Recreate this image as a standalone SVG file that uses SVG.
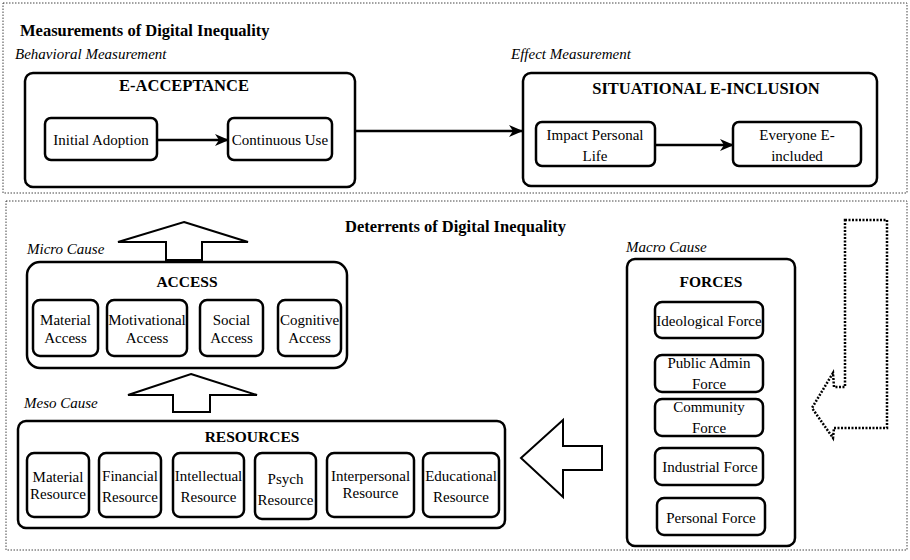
<svg xmlns="http://www.w3.org/2000/svg" width="910" height="560" viewBox="0 0 910 560">
<style>
text{font-family:"Liberation Serif","Times New Roman",serif;fill:#000}
.t{font-size:15px}
.h{font-size:16.5px;font-weight:bold}
.h2{font-size:15.5px;font-weight:bold}
.i{font-size:15px;font-style:italic}
.frame{fill:none;stroke:#444;stroke-width:1;stroke-dasharray:1.5 1.5}
.box{fill:#fff;stroke:#000;stroke-width:2.5}
.ob{fill:none;stroke:#000;stroke-width:2.5}
.blk{fill:#fff;stroke:#000;stroke-width:2}
.ln{fill:none;stroke:#000;stroke-width:2.5}
</style>
<defs>
<marker id="ah" markerUnits="userSpaceOnUse" markerWidth="14" markerHeight="12" refX="13" refY="6" orient="auto">
<path d="M0,0 L14,6 L0,12 L4,6 Z" fill="#000"/>
</marker>
</defs>
<rect x="0" y="0" width="910" height="560" fill="#fff"/>
<rect class="frame" x="3" y="3" width="904" height="190"/>
<rect class="frame" x="6" y="201" width="901" height="349"/>
<text class="h" x="20" y="36">Measurements of Digital Inequality</text>
<text class="i" x="15" y="59">Behavioral Measurement</text>
<text class="i" x="511" y="59">Effect Measurement</text>
<text class="h" x="345" y="232">Deterrents of Digital Inequality</text>
<text class="i" x="27" y="254">Micro Cause</text>
<text class="i" x="24" y="408">Meso Cause</text>
<text class="i" x="626" y="252">Macro Cause</text>

<g id="e-acceptance">
<rect class="ob" x="25" y="73" width="330" height="114" rx="8"/>
<text class="h" x="184" y="91" text-anchor="middle">E-ACCEPTANCE</text>
</g>
<g id="initial-adoption">
<rect class="box" x="45" y="118" width="112" height="42" rx="6"/>
<text class="t" x="101" y="145" text-anchor="middle">Initial Adoption</text>
</g>
<g id="continuous-use">
<rect class="box" x="228" y="118" width="104" height="42" rx="6"/>
<text class="t" x="280" y="145" text-anchor="middle">Continuous Use</text>
</g>

<g id="situational-e-inclusion">
<rect class="ob" x="523" y="73" width="354" height="113" rx="8"/>
<text class="h" x="706" y="94" text-anchor="middle">SITUATIONAL E-INCLUSION</text>
</g>
<g id="impact-personal-life">
<rect class="box" x="536" y="122" width="119" height="44" rx="6"/>
<text class="t" x="595" y="140" text-anchor="middle">Impact Personal</text>
<text class="t" x="595" y="161" text-anchor="middle">Life</text>
</g>
<g id="everyone-e-included">
<rect class="box" x="733" y="122" width="128" height="44" rx="6"/>
<text class="t" x="797" y="140" text-anchor="middle">Everyone E-</text>
<text class="t" x="797" y="161" text-anchor="middle">included</text>
</g>

<g id="access">
<rect class="ob" x="27" y="262" width="320" height="106" rx="13"/>
<text class="h2" x="187" y="287" text-anchor="middle">ACCESS</text>
</g>
<g id="material-access">
<rect class="box" x="33" y="300" width="65" height="56" rx="7"/>
<text class="t" x="65.5" y="325" text-anchor="middle">Material</text>
<text class="t" x="65.5" y="343" text-anchor="middle">Access</text>
</g>
<g id="motivational-access">
<rect class="box" x="107" y="300" width="80" height="56" rx="7"/>
<text class="t" x="147" y="325" text-anchor="middle">Motivational</text>
<text class="t" x="147" y="343" text-anchor="middle">Access</text>
</g>
<g id="social-access">
<rect class="box" x="200" y="300" width="63" height="56" rx="7"/>
<text class="t" x="231.5" y="325" text-anchor="middle">Social</text>
<text class="t" x="231.5" y="343" text-anchor="middle">Access</text>
</g>
<g id="cognitive-access">
<rect class="box" x="278" y="300" width="63" height="56" rx="7"/>
<text class="t" x="309.5" y="325" text-anchor="middle">Cognitive</text>
<text class="t" x="309.5" y="343" text-anchor="middle">Access</text>
</g>

<g id="resources">
<rect class="ob" x="18" y="421" width="487" height="107" rx="8"/>
<text class="h2" x="252" y="442" text-anchor="middle">RESOURCES</text>
</g>
<g id="material-resource">
<rect class="box" x="27" y="453" width="62" height="64" rx="7"/>
<text class="t" x="58" y="482" text-anchor="middle">Material</text>
<text class="t" x="58" y="499" text-anchor="middle">Resource</text>
</g>
<g id="financial-resource">
<rect class="box" x="99" y="453" width="62" height="64" rx="7"/>
<text class="t" x="130" y="481" text-anchor="middle">Financial</text>
<text class="t" x="130" y="502" text-anchor="middle">Resource</text>
</g>
<g id="intellectual-resource">
<rect class="box" x="173" y="453" width="71" height="64" rx="7"/>
<text class="t" x="208.5" y="481" text-anchor="middle">Intellectual</text>
<text class="t" x="208.5" y="502" text-anchor="middle">Resource</text>
</g>
<g id="psych-resource">
<rect class="box" x="255" y="453" width="61" height="66" rx="7"/>
<text class="t" x="285.5" y="484" text-anchor="middle">Psych</text>
<text class="t" x="285.5" y="505" text-anchor="middle">Resource</text>
</g>
<g id="interpersonal-resource">
<rect class="box" x="327" y="453" width="87" height="64" rx="7"/>
<text class="t" x="370.5" y="481" text-anchor="middle">Interpersonal</text>
<text class="t" x="370.5" y="498" text-anchor="middle">Resource</text>
</g>
<g id="educational-resource">
<rect class="box" x="423" y="453" width="76" height="64" rx="7"/>
<text class="t" x="461" y="481" text-anchor="middle">Educational</text>
<text class="t" x="461" y="502" text-anchor="middle">Resource</text>
</g>

<g id="forces">
<rect class="ob" x="627" y="259" width="168" height="287" rx="8"/>
<text class="h2" x="711" y="287" text-anchor="middle">FORCES</text>
</g>
<g id="ideological-force">
<rect class="box" x="655" y="302" width="108" height="36" rx="7"/>
<text class="t" x="709" y="326" text-anchor="middle">Ideological Force</text>
</g>
<g id="public-admin-force">
<rect class="box" x="655" y="355" width="108" height="37" rx="7"/>
<text class="t" x="709" y="368" text-anchor="middle">Public Admin</text>
<text class="t" x="709" y="389" text-anchor="middle">Force</text>
</g>
<g id="community-force">
<rect class="box" x="655" y="399" width="108" height="37" rx="7"/>
<text class="t" x="709" y="412" text-anchor="middle">Community</text>
<text class="t" x="709" y="433" text-anchor="middle">Force</text>
</g>
<g id="industrial-force">
<rect class="box" x="655" y="448" width="108" height="37" rx="7"/>
<text class="t" x="710" y="472" text-anchor="middle">Industrial Force</text>
</g>
<g id="personal-force">
<rect class="box" x="657" y="498" width="108" height="37" rx="7"/>
<text class="t" x="711" y="523" text-anchor="middle">Personal Force</text>
</g>

<g id="connectors">
<line class="ln" x1="157" y1="140" x2="228" y2="140" marker-end="url(#ah)"/>
<line class="ln" x1="355" y1="131" x2="522" y2="131" marker-end="url(#ah)"/>
<line class="ln" x1="655" y1="145" x2="733" y2="145" marker-end="url(#ah)"/>
<polygon class="blk" points="184,222 248,242 202,242 202,260 166,260 166,242 118,242"/>
<polygon class="blk" points="191,374 257,395 210,395 210,412 173,412 173,395 128,395"/>
<polygon class="blk" points="521,458 563,420 563,446 602,446 602,470 563,470 563,497"/>
<polygon points="845,220 887,220 887,428 834,428 833,438 812,408 833,373 834,387 845,387" fill="none" stroke="#000" stroke-width="2.5" stroke-dasharray="2 1.5"/>
</g>
</svg>
